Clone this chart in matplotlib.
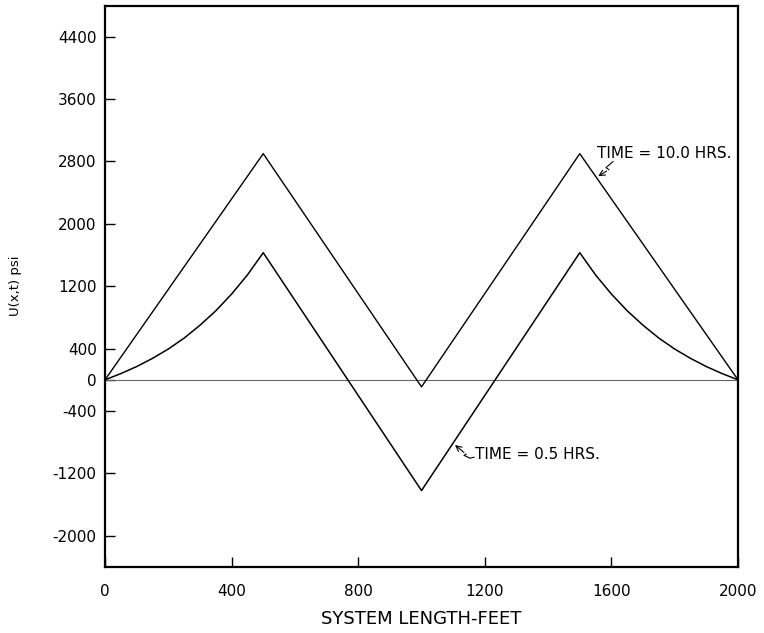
import matplotlib
matplotlib.use("Agg")
import matplotlib.pyplot as plt

# ---- data ----
x_10hr = [0, 500, 1000, 1500, 2000]
u_10hr = [0, 2900, -90, 2900, 0]

x_05hr = [0, 50, 100, 150, 200, 250, 300, 350, 400, 450, 500,
          1000,
          1500, 1550, 1600, 1650, 1700, 1750, 1800, 1850, 1900, 1950, 2000]
u_05hr = [0, 80, 170, 275, 395, 535, 700, 885, 1100, 1345, 1630,
          -1420,
          1630, 1345, 1100, 885, 700, 535, 395, 275, 170, 80, 0]

x_ticks = [0, 400, 800, 1200, 1600, 2000]
y_ticks = [-2000, -1200, -400, 0, 400, 1200, 2000, 2800, 3600, 4400]
y_ticklabels = ["-2000", "-1200", "-400", "0", "400", "1200", "2000", "2800", "3600", "4400"]

plt.rcParams['font.family'] = ['DejaVu Sans']

fig = plt.figure(figsize=(7.64, 6.33), dpi=100)
ax = fig.add_axes([105/764, 1-567/633, (738-105)/764, (567-5.5)/633])

ax.plot([0, 2000], [0, 0], color="#666666", lw=0.8)
ax.plot(x_10hr, u_10hr, color="black", lw=1.0)
ax.plot(x_05hr, u_05hr, color="black", lw=1.1)

ax.set_xlim(0, 2000)
ax.set_ylim(-2400, 4800)

ax.set_xticks(x_ticks)
ax.set_xticklabels([str(v) for v in x_ticks])
ax.set_yticks(y_ticks)
ax.set_yticklabels(y_ticklabels)
ax.tick_params(axis="both", direction="in", length=7, width=1.0, labelsize=11)
ax.tick_params(axis="x", pad=12)
ax.tick_params(axis="y", pad=6)
for s in ax.spines.values():
    s.set_linewidth(1.6)

ax.set_xlabel("SYSTEM LENGTH-FEET", fontsize=13, labelpad=8)
ax.set_ylabel("U(x,t) psi", fontsize=9.5, labelpad=22)

# annotations with zig-zag leaders
ax.text(1555, 2904, "TIME = 10.0 HRS.", fontsize=11, va="center", ha="left")
ax.plot([1605, 1583, 1592], [2798, 2721, 2695], color="black", lw=0.8)
ax.annotate("", xy=(1551, 2593), xytext=(1592, 2695),
            arrowprops=dict(arrowstyle="->", lw=0.8, color="black"))

ax.text(1170, -954, "TIME = 0.5 HRS.", fontsize=11, va="center", ha="left")
ax.plot([1166, 1153, 1134, 1141], [-992, -1005, -967, -954], color="black", lw=0.8)
ax.annotate("", xy=(1099, -813), xytext=(1141, -954),
            arrowprops=dict(arrowstyle="->", lw=0.8, color="black"))

fig.savefig("out.png", dpi=100)
